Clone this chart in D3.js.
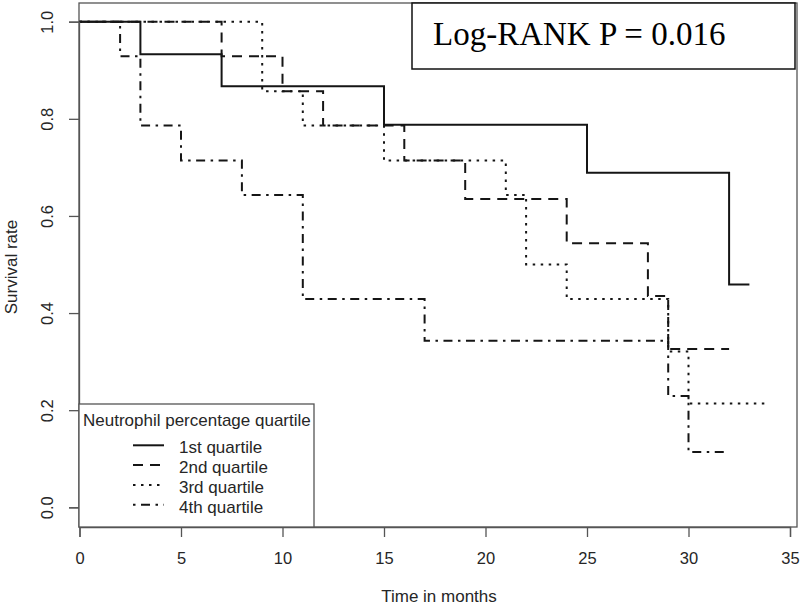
<!DOCTYPE html>
<html>
<head>
<meta charset="utf-8">
<script src="https://cdn.jsdelivr.net/npm/d3@7"></script>
<style>
  html, body { margin: 0; padding: 0; background: #fff; }
  svg { display: block; }
</style>
</head>
<body>
<svg id="chart" width="800" height="607"></svg>
<script>
// ---- data ----
const seriesNames = ["1st quartile", "2nd quartile", "3rd quartile", "4th quartile"];
const legendTitle = "Neutrophil percentage quartile";
const times1 = [0, 3, 7, 15, 25, 32];
const surv1  = [1, 0.933, 0.867, 0.788, 0.689, 0.459];
const end1 = 33;
const times2 = [0, 7, 10, 12, 16, 19, 24, 28, 29];
const surv2  = [1, 0.929, 0.857, 0.786, 0.714, 0.635, 0.544, 0.435, 0.326];
const end2 = 32;
const times3 = [0, 9, 11, 15, 21, 22, 24, 29, 30];
const surv3  = [1, 0.857, 0.786, 0.714, 0.643, 0.5, 0.429, 0.321, 0.214];
const end3 = 34;
const times4 = [0, 2, 3, 5, 8, 11, 17, 29, 30];
const surv4  = [1, 0.929, 0.786, 0.714, 0.643, 0.429, 0.343, 0.229, 0.114];
const end4 = 32;
const xTicks = [0, 5, 10, 15, 20, 25, 30, 35];
const yTicks = [0, 0.2, 0.4, 0.6, 0.8, 1.0];
const xTitle = "Time in months";
const yTitle = "Survival rate";
const pText = "Log-RANK P = 0.016";

// ---- styles ----
const dashes = [null, "10,7", "2.5,5.5", "2.5,5.5,9,5.5"];
const lineColor = "#151515";
const textColor = "#262626";
const sansFont = "'Liberation Sans', Arial, sans-serif";

const svg = d3.select("#chart");
const x = d3.scaleLinear().domain([0, 35]).range([79.5, 790]);
const y = d3.scaleLinear().domain([0, 1]).range([507.3, 21.7]);
const box = { left: 79, right: 797, top: 3, bottom: 527 };

const series = [
  { t: times1, s: surv1, end: end1 },
  { t: times2, s: surv2, end: end2 },
  { t: times3, s: surv3, end: end3 },
  { t: times4, s: surv4, end: end4 }
].map(d => {
  const pts = d.t.map((t, i) => [t, d.s[i]]);
  pts.push([d.end, d.s[d.s.length - 1]]);
  return pts;
});

const line = d3.line().x(d => x(d[0])).y(d => y(d[1])).curve(d3.curveStepAfter);

// plot box
svg.append("rect")
  .attr("x", box.left).attr("y", box.top)
  .attr("width", box.right - box.left).attr("height", box.bottom - box.top)
  .attr("fill", "none").attr("stroke", "#555").attr("stroke-width", 1.3);

// curves
series.forEach((pts, i) => {
  svg.append("path")
    .attr("d", line(pts))
    .attr("fill", "none")
    .attr("stroke", lineColor)
    .attr("stroke-width", 2)
    .attr("stroke-dasharray", dashes[i]);
});

// x axis
const gx = svg.append("g")
  .attr("transform", `translate(0,${box.bottom})`)
  .call(d3.axisBottom(x).tickValues(xTicks).tickSize(10).tickFormat(d3.format("d")));
gx.select(".domain").attr("stroke", "#555").attr("stroke-width", 1.3);
gx.selectAll(".tick line").attr("stroke", "#555").attr("stroke-width", 1.3);
gx.selectAll(".tick text")
  .attr("y", 37).attr("dy", 0)
  .attr("fill", textColor)
  .style("font-family", sansFont).style("font-size", "16.5px");

// y axis
const gy = svg.append("g")
  .attr("transform", `translate(${box.left},0)`)
  .call(d3.axisLeft(y).tickValues(yTicks).tickSize(10).tickFormat(d3.format(".1f")));
gy.select(".domain").attr("stroke", "#555").attr("stroke-width", 1.3);
gy.selectAll(".tick line").attr("stroke", "#555").attr("stroke-width", 1.3);
gy.selectAll(".tick text")
  .attr("x", null).attr("dy", 0)
  .attr("text-anchor", "middle")
  .attr("transform", "translate(-26,0) rotate(-90)")
  .attr("fill", textColor)
  .style("font-family", sansFont).style("font-size", "16.5px");

// axis titles
svg.append("text")
  .attr("x", 439).attr("y", 602)
  .attr("text-anchor", "middle")
  .attr("fill", textColor)
  .style("font-family", sansFont).style("font-size", "17px")
  .text(xTitle);
svg.append("text")
  .attr("transform", "translate(17,267) rotate(-90)")
  .attr("text-anchor", "middle")
  .attr("fill", textColor)
  .style("font-family", sansFont).style("font-size", "17px")
  .text(yTitle);

// legend
const lg = svg.append("g");
lg.append("rect")
  .attr("x", 79).attr("y", 404).attr("width", 235).attr("height", 123)
  .attr("fill", "#fff").attr("stroke", "#555").attr("stroke-width", 1.3);
lg.append("text")
  .attr("x", 83).attr("y", 426)
  .attr("fill", textColor)
  .style("font-family", sansFont).style("font-size", "17px")
  .text(legendTitle);
seriesNames.forEach((name, i) => {
  const yy = 445.3 + 19.8 * i;
  lg.append("line")
    .attr("x1", 133).attr("x2", 164).attr("y1", yy).attr("y2", yy)
    .attr("stroke", lineColor).attr("stroke-width", 2)
    .attr("stroke-dasharray", dashes[i]);
  lg.append("text")
    .attr("x", 179).attr("y", 453.3 + 19.8 * i)
    .attr("fill", textColor)
    .style("font-family", sansFont).style("font-size", "17px")
    .text(name);
});

// log-rank box
svg.append("rect")
  .attr("x", 412).attr("y", 3).attr("width", 383).attr("height", 66)
  .attr("fill", "#fff").attr("stroke", "#111").attr("stroke-width", 1.5);
svg.append("text")
  .attr("x", 433).attr("y", 45)
  .attr("fill", "#000")
  .style("font-family", "'Liberation Serif', 'Times New Roman', serif")
  .style("font-size", "33px")
  .text(pText);
</script>
</body>
</html>
